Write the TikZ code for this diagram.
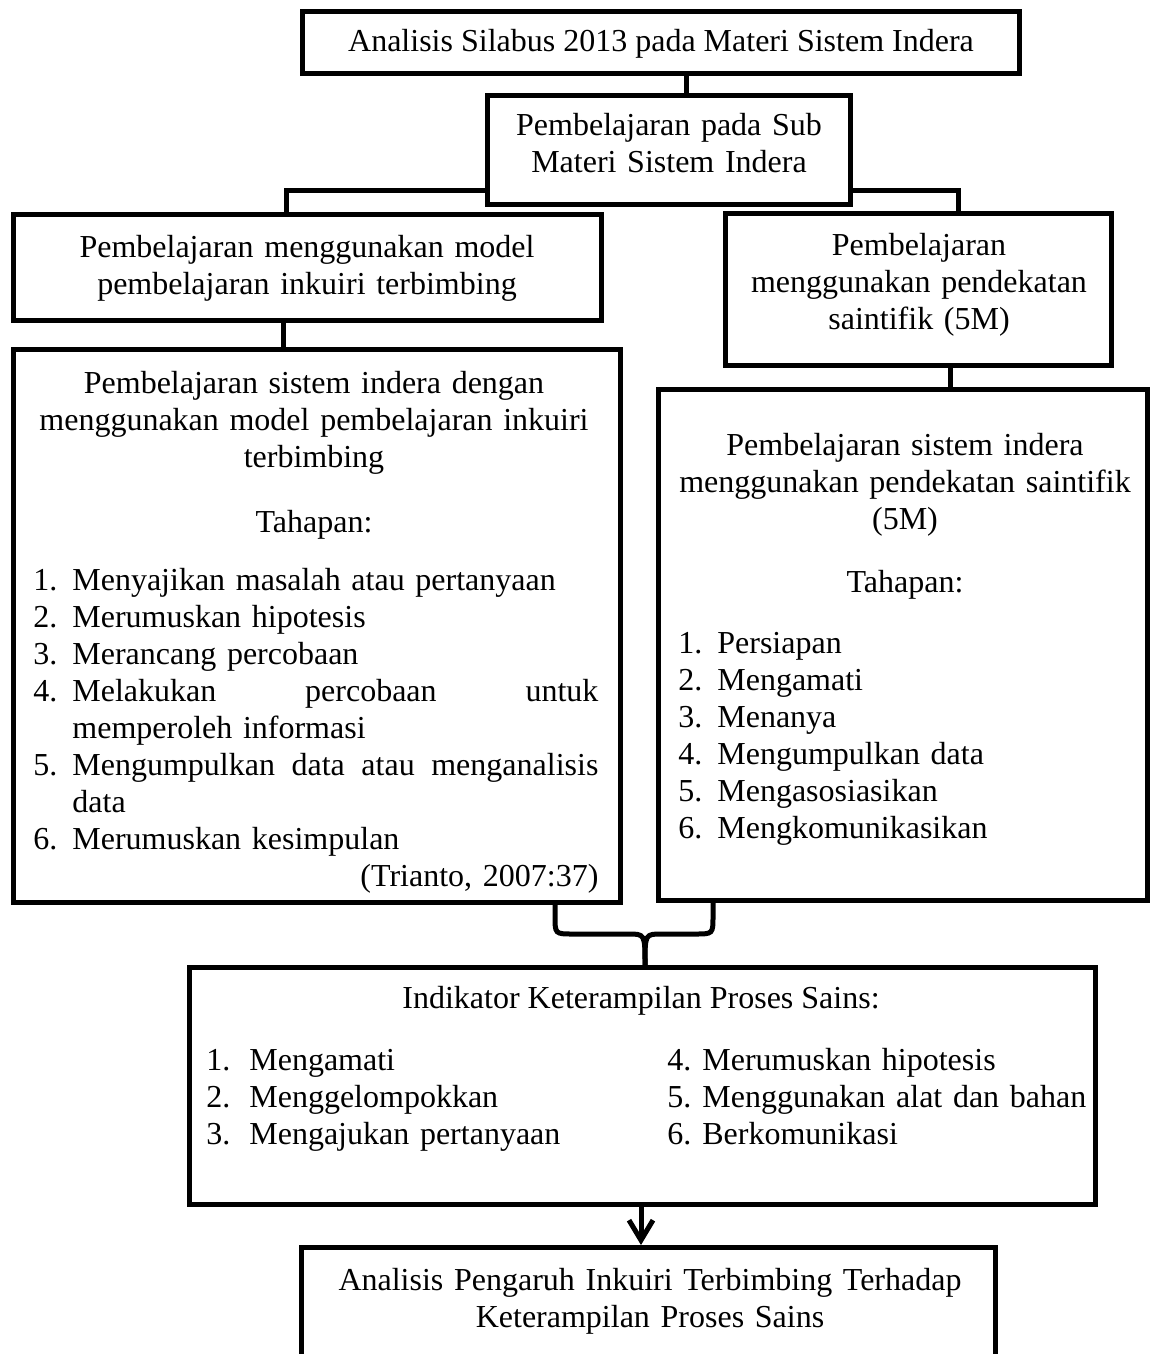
\documentclass[tikz,border=0pt]{standalone}
\usepackage{fontspec}
\setmainfont{Liberation Serif}
\usetikzlibrary{fit,arrows.meta}
\begin{document}
\begin{tikzpicture}[x=0.5pt,y=-0.5pt,
  frame/.style={draw=black, line width=2.5pt, inner sep=0pt},
  conn/.style={draw=black, line width=2.5pt},
  txt/.style={font=\fontsize{16}{18.5}\selectfont, inner sep=0pt, anchor=north, yshift=12.95pt},
  ltxt/.style={txt, anchor=north west, align=left},
]
\useasboundingbox (0,0) rectangle (1151,1354);
\clip (0,0) rectangle (1151,1354);
\fill[white] (0,0) rectangle (1151,1354);

% boxes
\node[frame, fit={(302.5,11.5) (1019.5,73.5)}] (T) {};
\node[frame, fit={(487.5,95.5) (850.5,204.5)}] (S) {};
\node[frame, fit={(13.5,214.5) (601.5,320.5)}] (L1) {};
\node[frame, fit={(725.5,213.5) (1111.5,365.5)}] (R1) {};
\node[frame, fit={(13.5,349.5) (620.5,902.5)}] (L2) {};
\node[frame, fit={(658.5,389.5) (1147.5,900.5)}] (R2) {};
\node[frame, fit={(189.5,967.5) (1095.5,1204.5)}] (I) {};
\node[frame, fit={(301.5,1247.5) (995.5,1420)}] (F) {};

% texts
\node[txt] (Tt) at (661,51) {\strut Analisis Silabus 2013 pada Materi Sistem Indera};
\node[txt, text width=175pt, align=center] (St) at (669,135) {\strut Pembelajaran pada Sub\\ Materi Sistem Indera};
\node[txt, text width=285pt, align=center] (L1t) at (307,257) {\strut Pembelajaran menggunakan model\\ pembelajaran inkuiri terbimbing};
\node[txt, text width=190pt, align=center] (R1t) at (919,255) {\strut Pembelajaran\\ menggunakan pendekatan\\ saintifik (5M)};

\node[txt, text width=290pt, align=center] (L2h) at (314,393) {\strut Pembelajaran sistem indera dengan\\ menggunakan model pembelajaran inkuiri\\ terbimbing};
\node[txt] (L2tah) at (314,532) {\strut Tahapan:};
\node[ltxt, text width=282.5pt] (L2list) at (33,590) {\strut
\makebox[19.5pt][l]{1.}Menyajikan masalah atau pertanyaan\\
\makebox[19.5pt][l]{2.}Merumuskan hipotesis\\
\makebox[19.5pt][l]{3.}Merancang percobaan\\
\makebox[19.5pt][l]{4.}\makebox[263pt][s]{Melakukan\hfill percobaan\hfill untuk}\\
\hspace*{19.5pt}memperoleh informasi\\
\makebox[19.5pt][l]{5.}\makebox[263pt][s]{Mengumpulkan\hfill data\hfill atau\hfill menganalisis}\\
\hspace*{19.5pt}data\\
\makebox[19.5pt][l]{6.}Merumuskan kesimpulan\\
\hspace*{\fill}(Trianto, 2007:37)};

\node[txt, text width=240pt, align=center] (R2h) at (905,455) {\strut Pembelajaran sistem indera\\ menggunakan pendekatan saintifik\\ (5M)};
\node[txt] (R2tah) at (905,592) {\strut Tahapan:};
\node[ltxt, text width=220pt] (R2list) at (678,653) {\strut
\makebox[19.5pt][l]{1.}Persiapan\\
\makebox[19.5pt][l]{2.}Mengamati\\
\makebox[19.5pt][l]{3.}Menanya\\
\makebox[19.5pt][l]{4.}Mengumpulkan data\\
\makebox[19.5pt][l]{5.}Mengasosiasikan\\
\makebox[19.5pt][l]{6.}Mengkomunikasikan};

\node[txt] (It) at (641,1008) {\strut Indikator Keterampilan Proses Sains:};
\node[ltxt, text width=220pt] (Il) at (206,1070) {\strut
\makebox[21.5pt][l]{1.}Mengamati\\
\makebox[21.5pt][l]{2.}Menggelompokkan\\
\makebox[21.5pt][l]{3.}Mengajukan pertanyaan};
\node[ltxt, text width=220pt] (Ir) at (667,1070) {\strut
\makebox[17.5pt][l]{4.}Merumuskan hipotesis\\
\makebox[17.5pt][l]{5.}Menggunakan alat dan bahan\\
\makebox[17.5pt][l]{6.}Berkomunikasi};

\node[txt, text width=330pt, align=center] (Ft) at (650,1290) {\strut Analisis Pengaruh Inkuiri Terbimbing Terhadap\\ Keterampilan Proses Sains};

% connectors
\coordinate (xTS) at (686,0);
\draw[conn] (T.south -| xTS) -- (S.north -| xTS);
\coordinate (yS) at (0,190);
\coordinate (xL) at (286,0);
\coordinate (xR) at (958,0);
\draw[conn] (S.west |- yS) -| (L1.north -| xL);
\draw[conn] (S.east |- yS) -| (R1.north -| xR);
\coordinate (xL2) at (283,0);
\draw[conn] (L1.south -| xL2) -- (L2.north -| xL2);
\coordinate (xR2) at (950,0);
\draw[conn] (R1.south -| xR2) -- (R2.north -| xR2);

% brace
\coordinate (bL) at (555,0);
\coordinate (bR) at (713,0);
\coordinate (bT) at (645,0);
\draw[conn] (L2.south -| bL) -- (555,916) .. controls (555,934) .. (573,934) -- (628,934) .. controls (645,934) .. (I.north -| bT);
\draw[conn] (R2.south -| bR) -- (713,916) .. controls (713,934) .. (695,934) -- (662,934) .. controls (645,934) .. (I.north -| bT);

% arrow
\coordinate (xA) at (641,0);
\draw[conn, -{Straight Barb[length=10pt,width=12pt]}] (I.south -| xA) -- (F.north -| xA);
\end{tikzpicture}
\end{document}
